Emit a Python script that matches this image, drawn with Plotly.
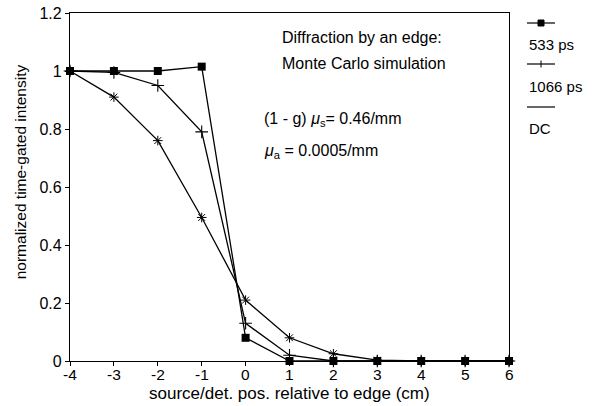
import plotly.graph_objects as go

positions = [-4, -3, -2, -1, 0, 1, 2, 3, 4, 5, 6]
ps533 = [1.0, 1.0, 1.0, 1.015, 0.08, 0.0, 0.0, 0.0, 0.0, 0.0, 0.0]
ps1066 = [1.0, 0.995, 0.95, 0.79, 0.13, 0.02, 0.0, 0.0, 0.0, 0.0, 0.0]
dc = [1.0, 0.91, 0.76, 0.495, 0.21, 0.08, 0.025, 0.003, 0.0, 0.0, 0.0]
y_ticks = [0, 0.2, 0.4, 0.6, 0.8, 1.0, 1.2]
y_tick_labels = ["0", "0.2", "0.4", "0.6", "0.8", "1", "1.2"]
x_ticks = [-4, -3, -2, -1, 0, 1, 2, 3, 4, 5, 6]
x_tick_labels = ["-4", "-3", "-2", "-1", "0", "1", "2", "3", "4", "5", "6"]
series_names = ["533 ps", "1066 ps", "DC"]
x_title = "source/det. pos. relative to edge (cm)"
y_title = "normalized time-gated intensity"

FONT = "Liberation Sans, Arial, Helvetica, sans-serif"
LW = 1.3

fig = go.Figure()
fig.add_trace(go.Scatter(x=positions, y=dc, mode="lines+markers", name=series_names[2],
                         line=dict(color="black", width=LW),
                         marker=dict(symbol="asterisk-open", size=8, color="black",
                                     line=dict(color="black", width=1)),
                         cliponaxis=False, showlegend=False))
fig.add_trace(go.Scatter(x=positions, y=ps1066, mode="lines+markers", name=series_names[1],
                         line=dict(color="black", width=LW),
                         marker=dict(symbol="cross-thin-open", size=9, color="black",
                                     line=dict(color="black", width=1.1)),
                         cliponaxis=False, showlegend=False))
fig.add_trace(go.Scatter(x=positions, y=ps533, mode="lines+markers", name=series_names[0],
                         line=dict(color="black", width=LW),
                         marker=dict(symbol="square", size=8, color="black"),
                         cliponaxis=False, showlegend=False))

# legend samples on a hidden helper axis (pixel-like units)
leg_y = [10, 51, 94]
leg_syms = ["square", "line-ns-open", None]
leg_sizes = [6, 5, 0]
for yy, sym, sz in zip(leg_y, leg_syms, leg_sizes):
    fig.add_trace(go.Scatter(x=[2, 16, 30], y=[yy, yy, yy], xaxis="x2", yaxis="y2",
                             mode="lines", line=dict(color="black", width=1.2),
                             showlegend=False, hoverinfo="skip"))
    if sym:
        fig.add_trace(go.Scatter(x=[16], y=[yy], xaxis="x2", yaxis="y2", mode="markers",
                                 marker=dict(symbol=sym, size=sz, color="black",
                                             line=dict(color="black", width=1)),
                                 showlegend=False, hoverinfo="skip"))

leg_label_y = [31, 73, 115]
for yy, name in zip(leg_label_y, series_names):
    fig.add_annotation(x=2, y=yy, xref="x2", yref="y2", text=name, showarrow=False,
                       xanchor="left", yanchor="middle",
                       font=dict(family=FONT, size=15, color="black"))

ann_font = dict(family=FONT, size=16, color="black")
fig.add_annotation(x=0.478, y=0.931, xref="x domain", yref="y domain",
                   text="Diffraction by an edge:", showarrow=False,
                   xanchor="left", yanchor="middle", font=ann_font)
fig.add_annotation(x=0.478, y=0.856, xref="x domain", yref="y domain",
                   text="Monte Carlo simulation", showarrow=False,
                   xanchor="left", yanchor="middle", font=ann_font)
fig.add_annotation(x=0.437, y=0.693, xref="x domain", yref="y domain",
                   text="(1 - g) <i>μ</i><sub>s</sub>= 0.46/mm", showarrow=False,
                   xanchor="left", yanchor="middle", font=ann_font)
fig.add_annotation(x=0.437, y=0.603, xref="x domain", yref="y domain",
                   text="<i>μ</i><sub>a</sub> = 0.0005/mm", showarrow=False,
                   xanchor="left", yanchor="middle", font=ann_font)

# x tick labels placed on the x scale
for xv, lab in zip(x_ticks, x_tick_labels):
    fig.add_annotation(x=xv, y=-0.040, xref="x", yref="y domain", text=lab,
                       showarrow=False, xanchor="center", yanchor="middle", borderpad=0,
                       font=dict(family=FONT, size=15.5, color="black"))

# axis titles
fig.add_annotation(x=0.499, y=-0.094, xref="x domain", yref="y domain",
                   text=x_title, showarrow=False, xanchor="center", yanchor="middle",
                   borderpad=0, font=dict(family=FONT, size=17, color="black"))
fig.add_annotation(x=-0.114, y=0.545, xref="x domain", yref="y domain",
                   text=y_title, showarrow=False, xanchor="center", yanchor="middle",
                   textangle=-90, font=dict(family=FONT, size=15.5, color="black"))

fig.update_layout(
    width=595, height=406,
    margin=dict(l=70, r=30, t=13, b=45),
    paper_bgcolor="white", plot_bgcolor="white",
    font=dict(family=FONT, size=16, color="black"),
    xaxis=dict(domain=[0, 439 / 495], range=[-4, 6], tickmode="array", tickvals=x_ticks,
               showticklabels=False, automargin=False,
               ticks="outside", ticklen=4, tickwidth=1, tickcolor="black",
               showline=True, linecolor="black", linewidth=1.2, mirror=True,
               showgrid=False, zeroline=False),
    yaxis=dict(range=[0, 1.2], tickmode="array", tickvals=y_ticks, ticktext=y_tick_labels,
               ticks="outside", ticklen=4, tickwidth=1, tickcolor="black",
               showline=True, linecolor="black", linewidth=1.2, mirror=True,
               showgrid=False, zeroline=False, automargin=False,
               tickfont=dict(size=16)),
    xaxis2=dict(domain=[455 / 495, 1.0], range=[0, 40], visible=False, anchor="y2"),
    yaxis2=dict(domain=[0, 1], range=[348, 0], visible=False, anchor="x2"),
)

fig.write_html("out.html")
